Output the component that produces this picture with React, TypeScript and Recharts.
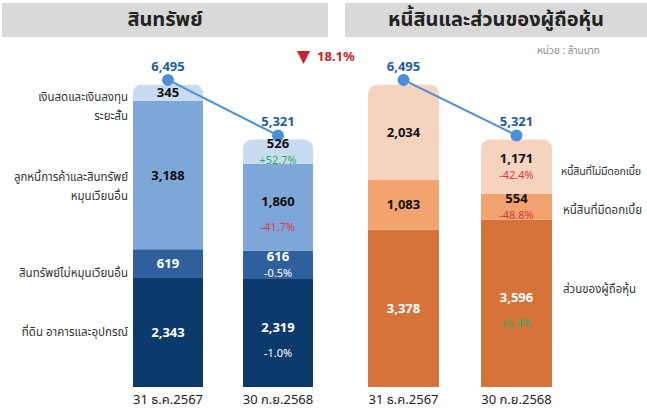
import React from 'react';
import {
  ComposedChart,
  Bar,
  Line,
  XAxis,
  YAxis,
  LabelList,
} from 'recharts';

// values in million baht
const periods = ['31 ธ.ค.2567', '30 ก.ย.2568'];

// assets (bottom -> top)
const ppe = [2343, 2319];
const nonCurrent = [619, 616];
const receivables = [3188, 1860];
const cash = [345, 526];
const totalAssets = [6495, 5321];
const ppeChg = ['', '-1.0%'];
const nonCurrentChg = ['', '-0.5%'];
const receivablesChg = ['', '-41.7%'];
const cashChg = ['', '+52.7%'];

// liabilities & equity (bottom -> top)
const equity = [3378, 3596];
const interestDebt = [1083, 554];
const nonInterestDebt = [2034, 1171];
const totalLE = [6495, 5321];
const equityChg = ['', '+6.4%'];
const interestDebtChg = ['', '-48.8%'];
const nonInterestDebtChg = ['', '-42.4%'];

const totalChange = '18.1%';

const FONT = '"Noto Sans", "Noto Sans Thai", "DejaVu Sans", sans-serif';
const GREEN = '#2fae5a';
const RED = '#d8363f';

const assetRows = periods.map((p, i) => ({
  period: p,
  ppe: ppe[i],
  nonCurrent: nonCurrent[i],
  receivables: receivables[i],
  cash: cash[i],
  total: totalAssets[i],
}));

const leRows = periods.map((p, i) => ({
  period: p,
  equity: equity[i],
  interestDebt: interestDebt[i],
  nonInterestDebt: nonInterestDebt[i],
  total: totalLE[i],
}));

const fmt = (v: number) => v.toLocaleString('en-US');

// label inside a stacked segment: value, and change % under it
function segLabel(changes: string[], valueColor: string, chgColor?: string) {
  return (props: any) => {
    const vb = props.viewBox || props;
    const { x, y, width, height } = vb;
    const { value, index } = props;
    const cx = x + width / 2;
    const cy = y + height / 2;
    const chg = changes[index];
    const pctColor = chgColor || (chg.startsWith('+') ? GREEN : RED);
    if (!chg) {
      return (
        <text x={cx} y={cy} dy="0.35em" textAnchor="middle" fill={valueColor}
          fontSize={13} fontWeight={700} fontFamily={FONT}>
          {fmt(value)}
        </text>
      );
    }
    // tall segments keep the % further down
    const up = height > 60 ? 6 : 8;
    const down = height > 60 ? 20 : 8;
    return (
      <g>
        <text x={cx} y={cy - up} dy="0.35em" textAnchor="middle" fill={valueColor}
          fontSize={13} fontWeight={700} fontFamily={FONT}>
          {fmt(value)}
        </text>
        <text x={cx} y={cy + down} dy="0.35em" textAnchor="middle" fill={pctColor}
          fontSize={11} fontFamily={FONT}>
          {chg}
        </text>
      </g>
    );
  };
}

const sideLabel: React.CSSProperties = {
  position: 'absolute',
  fontSize: 11.5,
  color: '#333',
  lineHeight: '19px',
  whiteSpace: 'nowrap',
};

export default function App() {
  return (
    <div style={{ position: 'absolute', left: 0, top: 0, width: 647, height: 412, background: '#fff', fontFamily: FONT, overflow: 'hidden' }}>
      {/* headers */}
      <div style={{ position: 'absolute', left: 2, top: 3, width: 326, height: 34, background: '#d9d9d9', display: 'flex', alignItems: 'center', justifyContent: 'center', fontSize: 20, fontWeight: 700, color: '#222' }}>
        สินทรัพย์
      </div>
      <div style={{ position: 'absolute', left: 345, top: 3, width: 302, height: 34, background: '#d9d9d9', display: 'flex', alignItems: 'center', justifyContent: 'center', fontSize: 20, fontWeight: 700, color: '#222' }}>
        หนี้สินและส่วนของผู้ถือหุ้น
      </div>

      {/* assets chart */}
      <div style={{ position: 'absolute', left: 0, top: 0 }}>
        <ComposedChart width={340} height={412} data={assetRows}
          margin={{ top: 39, right: 7, left: 113, bottom: 0 }}>
          <XAxis dataKey="period" height={25} axisLine={false} tickLine={false}
            tick={{ fontSize: 13, fill: '#222', fontFamily: FONT }} />
          <YAxis yAxisId="v" hide domain={[0, 7480]} />
          <YAxis yAxisId="ln" hide domain={[0, 7360]} />
          <Bar yAxisId="v" dataKey="ppe" stackId="a" fill="#0c3a6d" barSize={70} isAnimationActive={false}>
            <LabelList dataKey="ppe" content={segLabel(ppeChg, '#fff', '#fff')} />
          </Bar>
          <Bar yAxisId="v" dataKey="nonCurrent" stackId="a" fill="#2f5f9d" barSize={70} isAnimationActive={false}>
            <LabelList dataKey="nonCurrent" content={segLabel(nonCurrentChg, '#fff', '#fff')} />
          </Bar>
          <Bar yAxisId="v" dataKey="receivables" stackId="a" fill="#7fa6d9" barSize={70} isAnimationActive={false}>
            <LabelList dataKey="receivables" content={segLabel(receivablesChg, '#111')} />
          </Bar>
          <Bar yAxisId="v" dataKey="cash" stackId="a" fill="#c8dbf0" barSize={70} radius={[9, 9, 0, 0]} isAnimationActive={false}>
            <LabelList dataKey="cash" content={segLabel(cashChg, '#111')} />
          </Bar>
          <Line yAxisId="ln" dataKey="total" stroke="#4d8fd6" strokeWidth={2}
            dot={{ r: 5, fill: '#4d8fd6', stroke: '#4d8fd6' }} isAnimationActive={false}>
            <LabelList dataKey="total" position="top" offset={9} formatter={(v: any) => fmt(v)}
              style={{ fill: '#1f5e9e', fontSize: 13, fontWeight: 700, fontFamily: FONT }} />
          </Line>
        </ComposedChart>
      </div>

      {/* liabilities & equity chart */}
      <div style={{ position: 'absolute', left: 330, top: 0 }}>
        <ComposedChart width={317} height={412} data={leRows}
          margin={{ top: 39, right: 74, left: 17, bottom: 0 }}>
          <XAxis dataKey="period" height={25} axisLine={false} tickLine={false}
            tick={{ fontSize: 13, fill: '#222', fontFamily: FONT }} />
          <YAxis yAxisId="v" hide domain={[0, 7480]} />
          <YAxis yAxisId="ln" hide domain={[0, 7360]} />
          <Bar yAxisId="v" dataKey="equity" stackId="a" fill="#d6733b" barSize={71} isAnimationActive={false}>
            <LabelList dataKey="equity" content={segLabel(equityChg, '#fff')} />
          </Bar>
          <Bar yAxisId="v" dataKey="interestDebt" stackId="a" fill="#f3a36d" barSize={71} isAnimationActive={false}>
            <LabelList dataKey="interestDebt" content={segLabel(interestDebtChg, '#111')} />
          </Bar>
          <Bar yAxisId="v" dataKey="nonInterestDebt" stackId="a" fill="#f5d3bf" barSize={71} radius={[9, 9, 0, 0]} isAnimationActive={false}>
            <LabelList dataKey="nonInterestDebt" content={segLabel(nonInterestDebtChg, '#111')} />
          </Bar>
          <Line yAxisId="ln" dataKey="total" stroke="#4d8fd6" strokeWidth={2}
            dot={{ r: 5, fill: '#4d8fd6', stroke: '#4d8fd6' }} isAnimationActive={false}>
            <LabelList dataKey="total" position="top" offset={9} formatter={(v: any) => fmt(v)}
              style={{ fill: '#1f5e9e', fontSize: 13, fontWeight: 700, fontFamily: FONT }} />
          </Line>
        </ComposedChart>
      </div>

      {/* total change */}
      <div style={{ position: 'absolute', left: 297, top: 44, display: 'flex', alignItems: 'center', color: '#c8232c', fontSize: 13, fontWeight: 700 }}>
        <span style={{ fontSize: 17, marginRight: 7 }}>▼</span>
        <span>{totalChange}</span>
      </div>
      <div style={{ position: 'absolute', left: 537, top: 43, fontSize: 10, color: '#8a8a8a' }}>
        หน่วย : ล้านบาท
      </div>

      {/* left side labels */}
      <div style={{ ...sideLabel, right: 647 - 128, top: 87, textAlign: 'right' }}>
        เงินสดและเงินลงทุน<br />ระยะสั้น
      </div>
      <div style={{ ...sideLabel, right: 647 - 128, top: 167, textAlign: 'right' }}>
        ลูกหนี้การค้าและสินทรัพย์<br />หมุนเวียนอื่น
      </div>
      <div style={{ ...sideLabel, right: 647 - 128, top: 263, textAlign: 'right' }}>
        สินทรัพย์ไม่หมุนเวียนอื่น
      </div>
      <div style={{ ...sideLabel, right: 647 - 128, top: 322, textAlign: 'right' }}>
        ที่ดิน อาคารและอุปกรณ์
      </div>

      {/* right side labels */}
      <div style={{ ...sideLabel, left: 561, top: 162, fontSize: 10.6, letterSpacing: -0.2 }}>หนี้สินที่ไม่มีดอกเบี้ย</div>
      <div style={{ ...sideLabel, left: 563, top: 200 }}>หนี้สินที่มีดอกเบี้ย</div>
      <div style={{ ...sideLabel, left: 563, top: 279 }}>ส่วนของผู้ถือหุ้น</div>
    </div>
  );
}
